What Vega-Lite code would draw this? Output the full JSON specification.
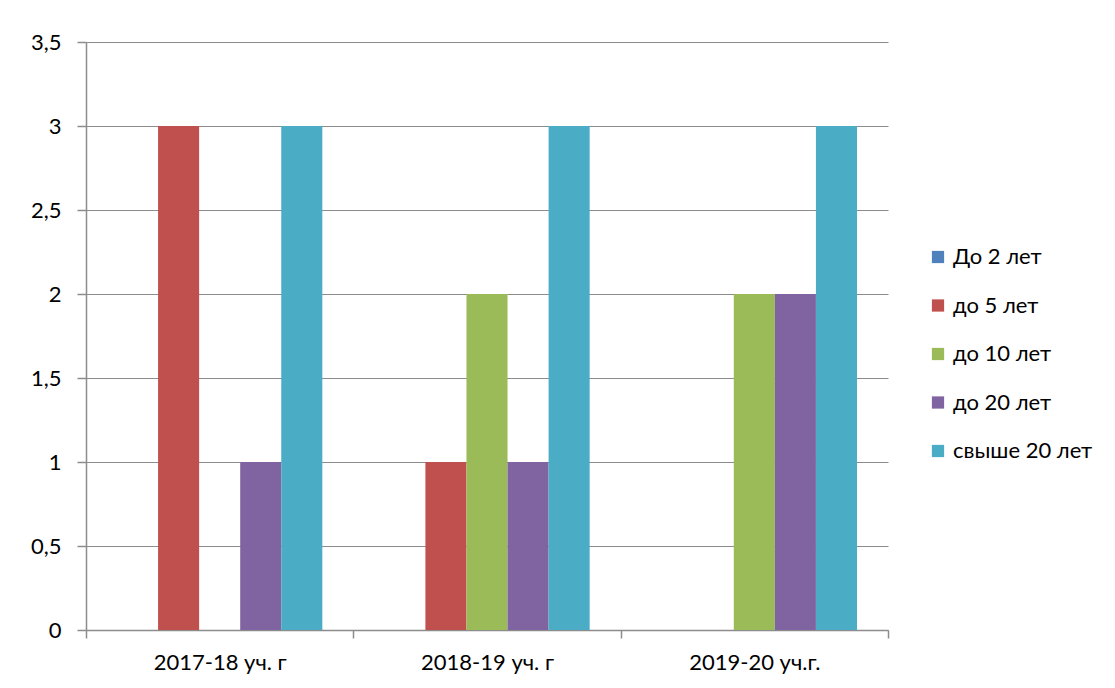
{
  "$schema": "https://vega.github.io/schema/vega-lite/v6.json",
  "width": 802,
  "height": 588,
  "autosize": {"type": "none"},
  "padding": {"left": 86, "top": 42, "right": 227, "bottom": 58},
  "background": "#ffffff",
  "data": {
    "values": [
      {"year": "2017-18 уч. г", "group": "До 2 лет", "value": 0},
      {"year": "2017-18 уч. г", "group": "до 5 лет", "value": 3},
      {"year": "2017-18 уч. г", "group": "до 10 лет", "value": 0},
      {"year": "2017-18 уч. г", "group": "до 20 лет", "value": 1},
      {"year": "2017-18 уч. г", "group": "свыше 20 лет", "value": 3},
      {"year": "2018-19 уч. г", "group": "До 2 лет", "value": 0},
      {"year": "2018-19 уч. г", "group": "до 5 лет", "value": 1},
      {"year": "2018-19 уч. г", "group": "до 10 лет", "value": 2},
      {"year": "2018-19 уч. г", "group": "до 20 лет", "value": 1},
      {"year": "2018-19 уч. г", "group": "свыше 20 лет", "value": 3},
      {"year": "2019-20 уч.г.", "group": "До 2 лет", "value": 0},
      {"year": "2019-20 уч.г.", "group": "до 5 лет", "value": 0},
      {"year": "2019-20 уч.г.", "group": "до 10 лет", "value": 2},
      {"year": "2019-20 уч.г.", "group": "до 20 лет", "value": 2},
      {"year": "2019-20 уч.г.", "group": "свыше 20 лет", "value": 3}
    ]
  },
  "mark": {"type": "bar"},
  "encoding": {
    "x": {
      "field": "year",
      "type": "nominal",
      "sort": null,
      "scale": {"paddingInner": 0, "paddingOuter": 0},
      "axis": {
        "title": null,
        "labelAngle": 0,
        "tickBand": "extent",
        "tickSize": 8,
        "tickColor": "#8c8c8c",
        "domainColor": "#8c8c8c",
        "labelPadding": 14,
        "labelFont": "Lato",
        "labelFontSize": 22,
        "labelColor": "#000000",
        "grid": false
      }
    },
    "xOffset": {
      "field": "group",
      "type": "nominal",
      "sort": ["До 2 лет", "до 5 лет", "до 10 лет", "до 20 лет", "свыше 20 лет"],
      "scale": {"paddingInner": 0, "paddingOuter": 0.755}
    },
    "y": {
      "field": "value",
      "type": "quantitative",
      "scale": {"domain": [0, 3.5], "nice": false},
      "axis": {
        "title": null,
        "values": [0, 0.5, 1, 1.5, 2, 2.5, 3, 3.5],
        "labelExpr": "replace(format(datum.value, '~g'), '.', ',')",
        "tickSize": 9,
        "tickColor": "#8c8c8c",
        "domainColor": "#8c8c8c",
        "gridColor": "#8c8c8c",
        "grid": true,
        "labelPadding": 16,
        "labelFont": "Lato",
        "labelFontSize": 22,
        "labelColor": "#000000"
      }
    },
    "color": {
      "field": "group",
      "type": "nominal",
      "sort": ["До 2 лет", "до 5 лет", "до 10 лет", "до 20 лет", "свыше 20 лет"],
      "scale": {
        "domain": ["До 2 лет", "до 5 лет", "до 10 лет", "до 20 лет", "свыше 20 лет"],
        "range": ["#4F81BD", "#C0504D", "#9BBB59", "#8064A2", "#4BACC6"]
      },
      "legend": {
        "title": null,
        "orient": "none",
        "legendX": 841,
        "legendY": 204,
        "symbolType": "square",
        "symbolSize": 150,
        "symbolStrokeWidth": 0,
        "labelFont": "Lato",
        "labelFontSize": 22,
        "labelColor": "#000000",
        "labelOffset": 4,
        "rowPadding": 26.5
      }
    }
  },
  "config": {
    "view": {"stroke": null},
    "axis": {"domainWidth": 1.5, "tickWidth": 1.5, "gridWidth": 1.2}
  }
}
